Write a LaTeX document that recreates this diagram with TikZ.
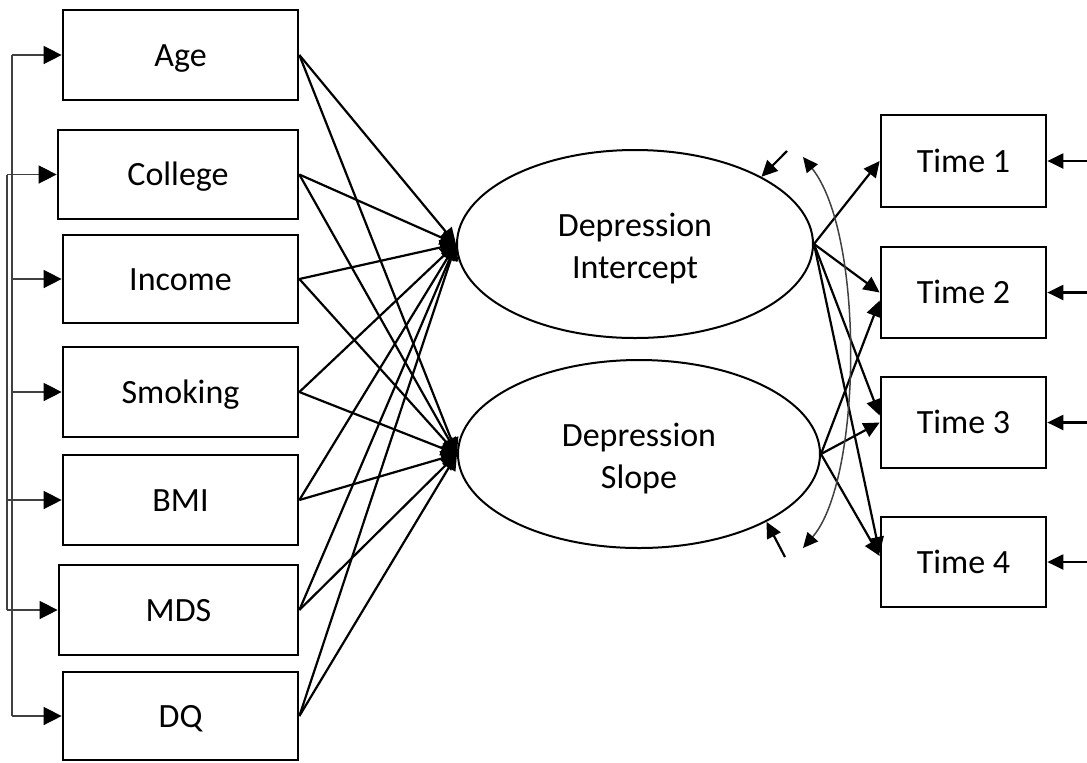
\documentclass[tikz,border=0pt]{standalone}
\usepackage{fontspec}
\setmainfont{Carlito}
\usetikzlibrary{arrows.meta,shapes.geometric}
\newcommand{\lattext}[1]{\raisebox{-2.5pt}[\height][\depth]{\begin{tabular}{@{}c@{}}#1\end{tabular}}}
\begin{document}
\begin{tikzpicture}[x=0.5pt,y=-0.5pt,
  box/.style={draw, line width=1.35pt, inner sep=0pt,
    text height=13pt, text depth=2pt,
    font=\fontsize{17}{21}\selectfont},
  lat/.style={draw, ellipse, line width=1pt, inner sep=0pt,
    font=\fontsize{17}{21}\selectfont},
  pth/.style={line width=1.1pt, -{Triangle[length=8pt,width=7.5pt]}},
  brkline/.style={draw=black!75, line width=0.7pt},
  brk/.style={draw=black!75, line width=0.7pt, -{Triangle[length=9pt,width=9pt,color=black]}},
  cov/.style={draw=black!75, line width=0.75pt,
    {Triangle[length=7.5pt,width=7pt,color=black]}-{Triangle[length=7.5pt,width=7pt,color=black]}}]
\useasboundingbox (0,0) rectangle (1087,762);

% left boxes
\node[box, minimum width=117.5pt, minimum height=45pt] (age) at (180.5,55) {Age};
\node[box, minimum width=120pt, minimum height=44.5pt] (college) at (178,174.5) {College};
\node[box, minimum width=117.5pt, minimum height=44pt] (income) at (180.5,279) {Income};
\node[box, minimum width=117.5pt, minimum height=45pt] (smoking) at (180.5,392) {Smoking};
\node[box, minimum width=117.5pt, minimum height=45pt] (bmi) at (180.5,500) {BMI};
\node[box, minimum width=119.5pt, minimum height=45pt] (mds) at (178.5,610) {MDS};
\node[box, minimum width=117.5pt, minimum height=44pt] (dq) at (180.5,716) {DQ};

% latent ellipses
\node[lat, minimum width=178pt, minimum height=94pt] (I) at (635,244) {\lattext{Depression\\Intercept}};
\node[lat, minimum width=181pt, minimum height=94pt] (S) at (639,454) {\lattext{Depression\\Slope}};

% time boxes
\node[box, minimum width=82.5pt, minimum height=46pt] (t1) at (963.5,161) {Time 1};
\node[box, minimum width=82.5pt, minimum height=45.5pt] (t2) at (963.5,292.5) {Time 2};
\node[box, minimum width=82.5pt, minimum height=45.5pt] (t3) at (963.5,422.5) {Time 3};
\node[box, minimum width=82.5pt, minimum height=45pt] (t4) at (963.5,562) {Time 4};

% bracket on the left
\coordinate (inner) at (12,0);
\coordinate (outer) at (7,0);
\draw[brkline] (inner |- age.west) -- (inner |- dq.west);
\draw[brkline] (outer |- college.west) -- (outer |- mds.west);
\foreach \n in {age,income,smoking,dq} \draw[brk] (inner |- \n.west) -- (\n.west);
\foreach \n in {college,bmi,mds} \draw[brk] (outer |- \n.west) -- (\n.west);

% predictors to latent factors
\foreach \n in {age,college,income,smoking,bmi,mds,dq}{
  \draw[pth] (\n.east) -- (I.west);
  \draw[pth] (\n.east) -- (S.west);
}

% loadings
\draw[pth] (I.east) -- (t1.west);
\draw[pth] (I.east) -- (t2.west);
\draw[pth] (I.east) -- ([yshift=3.5pt]t3.west);
\draw[pth] (I.east) -- ([yshift=4.5pt]t4.west);
\draw[pth] (S.east) -- ([yshift=-4pt]t2.west);
\draw[pth] (S.east) -- (t3.west);
\draw[pth] (S.east) -- ([yshift=3pt]t4.west);

% residuals on time boxes
\coordinate (rx) at (1087,0);
\foreach \n in {t1,t2,t3,t4} \draw[pth] (rx |- \n.east) -- (\n.east);

% residuals on latent factors
\coordinate (e1) at (787,151);
\coordinate (e2) at (785,557);
\draw[pth] (e1) -- (I.28);
\draw[pth] (e2) -- (S.-28);

% covariance
\coordinate (c1) at (803,157);
\coordinate (c2) at (803,548);
\draw[cov] (c1) .. controls (865,235) and (862,480) .. (c2);
\end{tikzpicture}
\end{document}
